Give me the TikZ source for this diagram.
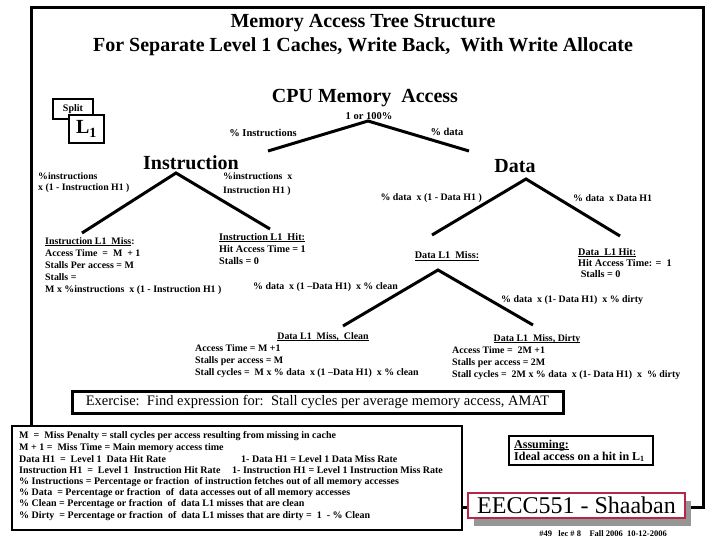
\documentclass[tikz,border=0pt]{standalone}
\usepackage{fontspec}
\setmainfont{Liberation Serif}
\definecolor{shred}{RGB}{180,40,70}
\definecolor{shgray}{RGB}{150,150,150}
\newcommand{\fsz}[2]{\fontsize{#1}{#2}\selectfont}
\newcommand{\ulx}[1]{\setbox0\hbox{#1}\rlap{\rule[-1.6pt]{\wd0}{0.8pt}}\box0}
\begin{document}
\begin{tikzpicture}[x=1pt,y=-1pt,
  branch/.style={line width=3pt},
  frameline/.style={line width=3pt},
  big/.style={inner sep=0pt, font=\bfseries\fsz{20}{24}},
  lbl/.style={inner sep=0pt, font=\bfseries\fsz{10.5}{12}},
  blk/.style={inner sep=0pt, font=\bfseries\fsz{9.9}{12.2}, align=left},
  dline/.style={inner sep=0pt, anchor=west, font=\bfseries\fsz{10}{11}},
  ]
\useasboundingbox (0,0) rectangle (720,540);
\fill[white] (0,0) rectangle (720,540);
% outer frame
\draw[frameline] (31,8) rectangle (703,507);
% titles
\node[big] (t1) at (363,23) {Memory Access Tree Structure};
\node[big] (t2) at (363,47) {For Separate Level 1 Caches, Write Back,\ \ With Write Allocate};
\node[big] (cpu) at (365,98) {CPU Memory\ \ Access};
% split L1
\node[draw, line width=1.5pt, fill=white, minimum width=40pt, minimum height=20pt, inner sep=0pt, font=\bfseries\fsz{10}{12}] (split) at (73,109) {Split};
\node[draw, line width=1.5pt, fill=white, minimum width=35pt, minimum height=28pt, inner sep=0pt, font=\bfseries\fsz{20}{24}] (lone) at (86.5,129) {L\textsubscript{1}};
% tree coordinates
\coordinate (cpuA) at (368,121);
\coordinate (insT) at (268,151);
\coordinate (datT) at (469,151);
\coordinate (insA) at (176,173);
\coordinate (insL) at (82,233);
\coordinate (insR) at (270,229);
\coordinate (datA) at (526,179);
\coordinate (datL) at (432,235);
\coordinate (datR) at (620,236);
\coordinate (dmA) at (438,270);
\coordinate (dmL) at (343,326);
\coordinate (dmR) at (533,325);
\draw[branch] (insT) -- (cpuA) -- (datT);
\draw[branch] (insL) -- (insA) -- (insR);
\draw[branch] (datL) -- (datA) -- (datR);
\draw[branch] (dmL) -- (dmA) -- (dmR);
% top labels
\node[lbl] (one) at (369,116) {1 or 100\%};
\node[lbl] (pins) at (263,133) {\% Instructions};
\node[lbl] (pdat) at (447,132) {\% data};
\node[big] (ins) at (191,163) {Instruction};
\node[big] (dat) at (515,166) {Data};
% instruction branch labels
\node[blk, anchor=north west, font=\bfseries\fsz{9.8}{10.5}] (insml) at (38,173) {\%instructions\\x (1 - Instruction H1 )};
\node[blk, anchor=north west, font=\bfseries\fsz{9.8}{13.5}] (inshl) at (223,173) {\%instructions\ \ x\\Instruction H1 )};
% data branch labels
\node[blk, anchor=east] (datml) at (482,198) {\% data\ \ x (1 - Data H1 )};
\node[blk, anchor=west] (dathl) at (573,198) {\% data\ \ x Data H1};
% instruction L1 miss
\node[blk, anchor=north west] (insmiss) at (45,237) {\ulx{Instruction L1\ \ Miss}:\\Access Time\ \ =\ \ M\ \ + 1\\Stalls Per access = M\\Stalls =\\M x \%instructions\ \ x (1 - Instruction H1 )};
% instruction L1 hit
\node[blk, anchor=north west, font=\bfseries\fsz{10.2}{12}] (inshit) at (219,233) {\ulx{Instruction L1\ \ Hit:}\\Hit Access Time = 1\\Stalls = 0};
% data L1 miss
\node[blk, font=\bfseries\fsz{10.2}{12}] (datmiss) at (447,256) {\ulx{Data L1\ \ Miss:}};
% data L1 hit
\node[blk, anchor=north west, font=\bfseries\fsz{10.2}{11}] (dathit) at (578,248) {\ulx{Data\ \ L1 Hit:}\\Hit Access Time: =\ \ 1\\\ Stalls = 0};
% data miss branch labels
\node[blk, anchor=west] (cleanl) at (253,287) {\% data\ \ x (1 --Data H1)\ \ x \% clean};
\node[blk, anchor=west] (dirtyl) at (501,300) {\% data\ \ x (1- Data H1)\ \ x \% dirty};
% clean block
\node[blk] (cleant) at (323,337) {\ulx{Data L1\ \ Miss,\ \ Clean}};
\node[blk, anchor=north west] (cleanb) at (195,344) {Access Time = M +1\\Stalls per access = M\\Stall cycles =\ \ M x \% data\ \ x (1 --Data H1)\ \ x \% clean};
% dirty block
\node[blk] (dirtyt) at (537,339) {\ulx{Data L1\ \ Miss, Dirty}};
\node[blk, anchor=north west] (dirtyb) at (452,346) {Access Time =\ \ 2M +1\\Stalls per access = 2M\\Stall cycles =\ \ 2M x \% data\ \ x (1- Data H1)\ \ x\ \ \% dirty};
% exercise
\node[draw, line width=3pt, fill=white, minimum width=491pt, minimum height=22pt, inner sep=0pt, font=\fsz{14.5}{16}] (ex) at (317.5,402) {Exercise:\ \ Find expression for:\ \ Stall cycles per average memory access, AMAT};
% definitions box
\node[draw, line width=2.5pt, fill=white, minimum width=450pt, minimum height=104pt, inner sep=0pt] (defbox) at (237,478) {};
\node[dline] (d1) at (19,436.5) {M\ \ = \ Miss Penalty = stall cycles per access resulting from missing in cache};
\node[dline] (d2) at (19,447.8) {M + 1 =\ \ Miss Time = Main memory access time};
\node[dline] (d3) at (19,459.1) {Data H1\ \ =\ \ Level 1\ \ Data Hit Rate};
\node[dline] (d3b) at (241,459.1) {1- Data H1 = Level 1 Data Miss Rate};
\node[dline] (d4) at (19,470.4) {Instruction H1\ \ =\ \ Level 1\ \ Instruction Hit Rate};
\node[dline] (d4b) at (232,470.4) {1- Instruction H1 = Level 1 Instruction Miss Rate};
\node[dline] (d5) at (19,481.7) {\% Instructions = Percentage or fraction\ \ of instruction fetches out of all memory accesses};
\node[dline] (d6) at (19,493) {\% Data\ \ = Percentage or fraction\ \ of\ \ data accesses out of all memory accesses};
\node[dline] (d7) at (19,504.3) {\% Clean = Percentage or fraction\ \ of\ \ data L1 misses that are clean};
\node[dline] (d8) at (19,515.6) {\% Dirty\ \ = Percentage or fraction\ \ of\ \ data L1 misses that are dirty =\ \ 1\ \ - \% Clean};
% assuming box
\node[draw, line width=2pt, fill=white, minimum width=144pt, minimum height=29pt, inner sep=0pt] (assbox) at (581,450.5) {};
\node[blk, anchor=north west, font=\bfseries\fsz{12}{12}] (ass) at (514,439.5) {\ulx{Assuming:}\\Ideal access on a hit in L\textsubscript{1}};
% Shaaban box
\fill[shgray] (474,501) rectangle (691,526);
\node[draw=shred, line width=2pt, fill=white, minimum width=217pt, minimum height=25pt, inner sep=0pt, font=\fsz{24}{28}] (shaaban) at (576.5,505.5) {EECC551 - Shaaban};
\node[inner sep=0pt, font=\bfseries\fsz{8.5}{10}] (foot) at (603,534) {\#49\ \ \ lec \# 8\ \ \ \ Fall 2006\ \ 10-12-2006};
\end{tikzpicture}
\end{document}
